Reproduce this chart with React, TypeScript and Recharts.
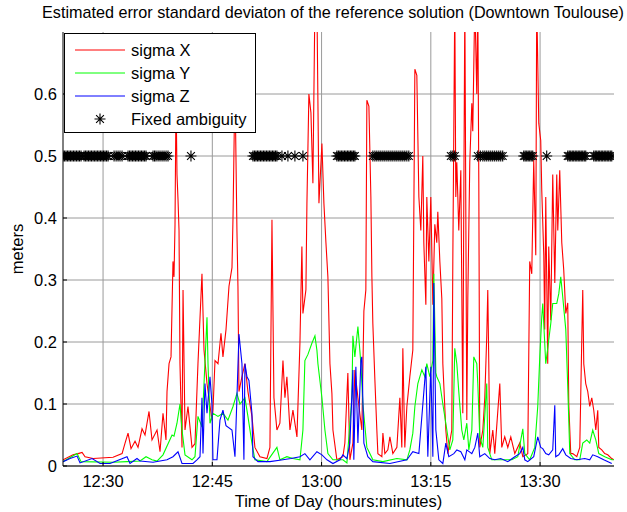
import React from "react";
import {
  CartesianGrid,
  ComposedChart,
  Line,
  Scatter,
  XAxis,
  YAxis,
} from "recharts";

// time is in minutes after 12:00, sigma in meters
const timeTicks = [30, 45, 60, 75, 90];
const meterTicks = [0, 0.1, 0.2, 0.3, 0.4, 0.5, 0.6];

const sigmaX: [number, number][] = [
  [24.51, 0.01], [25.88, 0.018], [26.57, 0.02], [27.12, 0.022], [27.53, 0.015], [28.63, 0.012],
  [31.37, 0.014], [32.61, 0.02], [33.02, 0.037], [33.43, 0.053], [33.84, 0.028], [34.39, 0.04],
  [34.8, 0.03], [35.35, 0.06], [35.76, 0.05], [36.31, 0.088], [36.72, 0.042], [37.41, 0.058],
  [37.82, 0.023], [38.23, 0.085], [38.64, 0.042], [38.78, 0.12], [39.06, 0.165], [39.33, 0.176],
  [39.6, 0.33], [39.74, 0.305], [39.88, 0.39], [40.02, 0.6], [40.15, 0.47], [40.29, 0.43],
  [40.43, 0.38], [40.56, 0.165], [40.84, 0.03], [40.98, 0.284], [41.25, 0.058], [41.66, 0.096],
  [42.21, 0.03], [42.62, 0.036], [43.03, 0.165], [43.58, 0.31], [43.86, 0.187], [44.27, 0.133],
  [44.95, 0.074], [45.09, 0.09], [45.37, 0.17], [45.78, 0.165], [46.19, 0.214], [46.46, 0.176],
  [46.88, 0.22], [47.29, 0.29], [47.7, 0.32], [47.84, 0.4], [48.11, 0.62], [48.38, 0.38],
  [48.52, 0.29], [48.66, 0.12], [49.07, 0.144], [49.48, 0.165], [49.89, 0.12], [50.44, 0.08],
  [50.85, 0.03], [51.54, 0.015], [52.5, 0.012], [52.91, 0.03], [53.19, 0.397], [53.46, 0.11],
  [53.87, 0.058], [54.28, 0.069], [54.7, 0.17], [54.97, 0.11], [55.24, 0.144], [55.66, 0.058],
  [56.07, 0.09], [56.62, 0.047], [57.03, 0.198], [57.3, 0.354], [57.44, 0.246], [57.85, 0.284],
  [57.99, 0.424], [58.26, 0.6], [58.54, 0.57], [58.81, 0.456], [59.09, 0.75], [59.36, 0.75],
  [59.64, 0.424], [60.05, 0.52], [60.32, 0.424], [60.6, 0.36], [60.87, 0.305], [61.15, 0.165],
  [61.42, 0.117], [61.56, 0.058], [62.1, 0.01], [62.93, 0.015], [63.2, 0.037], [63.61, 0.15],
  [63.89, 0.01], [64.3, 0.037], [64.57, 0.155], [64.99, 0.11], [65.53, 0.058], [65.81, 0.25],
  [66.08, 0.284], [66.22, 0.59], [66.5, 0.58], [66.77, 0.434], [66.91, 0.305], [67.04, 0.23],
  [67.32, 0.139], [67.59, 0.058], [67.73, 0.02], [68.28, 0.015], [68.42, 0.053], [68.69, 0.02],
  [69.1, 0.026], [69.38, 0.047], [69.79, 0.02], [70.34, 0.03], [70.75, 0.11], [71.02, 0.03],
  [71.16, 0.19], [71.43, 0.03], [71.71, 0.096], [72.12, 0.144], [72.53, 0.187], [72.81, 0.64],
  [73.08, 0.63], [73.36, 0.434], [73.63, 0.38], [73.9, 0.5], [74.04, 0.36], [74.32, 0.26],
  [74.45, 0.434], [74.73, 0.33], [75.0, 0.434], [75.28, 0.26], [75.55, 0.39], [75.82, 0.36],
  [75.96, 0.41], [76.24, 0.33], [76.51, 0.27], [76.65, 0.165], [77.06, 0.058], [77.33, 0.02],
  [77.88, 0.058], [78.02, 0.33], [78.29, 0.75], [78.43, 0.434], [78.57, 0.49], [78.84, 0.38],
  [79.12, 0.477], [79.39, 0.085], [79.53, 0.434], [79.67, 0.75], [79.94, 0.074], [80.08, 0.27],
  [80.35, 0.49], [80.63, 0.585], [80.76, 0.54], [81.04, 0.75], [81.31, 0.6], [81.45, 0.75],
  [81.59, 0.456], [81.72, 0.03], [82.14, 0.058], [82.41, 0.11], [82.68, 0.21], [82.82, 0.284],
  [82.96, 0.165], [83.1, 0.02], [83.51, 0.058], [83.78, 0.02], [84.47, 0.133], [84.74, 0.03],
  [85.15, 0.047], [85.57, 0.03], [85.98, 0.047], [86.53, 0.02], [87.21, 0.037], [87.63, 0.015],
  [88.31, 0.02], [88.58, 0.33], [88.86, 0.31], [89.13, 0.494], [89.41, 0.34], [89.54, 0.75],
  [89.82, 0.553], [90.09, 0.525], [90.23, 0.445], [90.51, 0.34], [90.64, 0.22], [90.78, 0.434],
  [91.05, 0.165], [91.19, 0.354], [91.47, 0.235], [91.74, 0.47], [92.02, 0.295], [92.29, 0.47],
  [92.43, 0.38], [92.7, 0.477], [92.98, 0.36], [93.25, 0.316], [93.53, 0.246], [93.8, 0.263],
  [93.94, 0.1], [94.21, 0.02], [94.49, 0.02], [95.04, 0.015], [95.45, 0.03], [95.72, 0.2],
  [95.86, 0.284], [96.0, 0.165], [96.27, 0.133], [96.55, 0.12], [96.82, 0.096], [97.1, 0.11],
  [97.37, 0.09], [97.65, 0.058], [97.92, 0.09], [98.06, 0.03], [98.47, 0.026], [98.88, 0.02],
  [99.29, 0.018], [99.84, 0.012], [100.12, 0.01],
];

const sigmaY: [number, number][] = [
  [24.51, 0.007], [26.43, 0.02], [26.98, 0.007], [31.37, 0.006], [33.29, 0.007], [35.08, 0.008],
  [35.9, 0.015], [36.72, 0.01], [37.41, 0.008], [38.23, 0.018], [39.47, 0.05], [39.74, 0.048],
  [40.15, 0.069], [40.56, 0.1], [40.84, 0.058], [41.25, 0.018], [42.21, 0.01], [42.62, 0.015],
  [43.03, 0.08], [43.58, 0.063], [43.72, 0.096], [44.27, 0.24], [44.41, 0.165], [44.68, 0.069],
  [45.09, 0.085], [45.78, 0.08], [46.46, 0.085], [47.15, 0.074], [47.84, 0.096], [48.38, 0.117],
  [48.79, 0.1], [49.48, 0.11], [49.89, 0.08], [50.44, 0.037], [50.85, 0.01], [52.5, 0.007],
  [53.87, 0.03], [54.28, 0.01], [55.24, 0.015], [56.07, 0.012], [57.03, 0.01], [57.44, 0.058],
  [57.71, 0.17], [58.13, 0.18], [58.67, 0.198], [59.09, 0.21], [59.36, 0.187], [59.5, 0.165],
  [60.05, 0.11], [60.46, 0.058], [60.87, 0.02], [61.56, 0.01], [62.93, 0.01], [63.48, 0.005],
  [64.16, 0.11], [64.3, 0.21], [64.57, 0.176], [64.99, 0.225], [65.4, 0.165], [65.67, 0.1],
  [66.22, 0.03], [66.63, 0.02], [67.04, 0.01], [68.42, 0.007], [70.34, 0.012], [71.71, 0.01],
  [72.12, 0.026], [72.53, 0.053], [72.81, 0.096], [73.22, 0.133], [73.77, 0.155], [74.18, 0.144],
  [74.45, 0.165], [74.86, 0.144], [75.28, 0.17], [75.41, 0.31], [75.69, 0.15], [75.82, 0.144],
  [76.24, 0.133], [76.65, 0.1], [77.2, 0.058], [77.61, 0.026], [78.02, 0.042], [78.29, 0.19],
  [78.57, 0.165], [78.84, 0.12], [79.25, 0.058], [79.53, 0.042], [79.94, 0.069], [80.22, 0.026],
  [80.63, 0.058], [80.9, 0.176], [81.31, 0.165], [81.45, 0.133], [81.72, 0.047], [82.14, 0.03],
  [82.68, 0.133], [82.82, 0.03], [83.37, 0.01], [84.74, 0.01], [86.12, 0.01], [86.94, 0.015],
  [87.63, 0.06], [87.9, 0.02], [88.58, 0.01], [89.27, 0.03], [89.68, 0.096], [89.96, 0.176],
  [90.23, 0.24], [90.37, 0.262], [90.78, 0.165], [91.05, 0.19], [91.47, 0.23], [91.74, 0.262],
  [92.29, 0.262], [92.57, 0.278], [92.84, 0.305], [93.11, 0.273], [93.53, 0.22], [93.8, 0.128],
  [94.08, 0.02], [94.76, 0.01], [95.45, 0.01], [95.86, 0.037], [96.41, 0.042], [96.82, 0.037],
  [97.23, 0.058], [97.65, 0.042], [98.06, 0.02], [98.88, 0.015], [99.84, 0.01], [100.12, 0.01],
];

const sigmaZ: [number, number][] = [
  [24.51, 0.007], [25.47, 0.012], [26.43, 0.016], [26.84, 0.005], [28.49, 0.012], [29.59, 0.004],
  [30.96, 0.004], [33.29, 0.015], [33.7, 0.004], [34.66, 0.012], [35.08, 0.008], [36.86, 0.006],
  [38.78, 0.01], [39.6, 0.015], [40.29, 0.023], [40.84, 0.004], [42.35, 0.004], [42.89, 0.01],
  [43.31, 0.015], [43.58, 0.11], [43.72, 0.02], [43.99, 0.133], [44.27, 0.085], [44.68, 0.144],
  [44.95, 0.1], [45.09, 0.01], [45.64, 0.01], [46.05, 0.074], [46.46, 0.09], [46.88, 0.065],
  [47.7, 0.058], [48.11, 0.015], [48.38, 0.11], [48.66, 0.213], [49.07, 0.165], [49.34, 0.01],
  [49.48, 0.165], [49.76, 0.144], [50.03, 0.138], [50.44, 0.085], [50.58, 0.015], [51.27, 0.007],
  [52.91, 0.007], [54.7, 0.01], [55.79, 0.012], [57.03, 0.015], [57.71, 0.02], [58.4, 0.01],
  [59.36, 0.023], [60.05, 0.018], [60.74, 0.01], [61.56, 0.004], [62.52, 0.01], [62.93, 0.018],
  [63.48, 0.012], [63.89, 0.037], [64.3, 0.155], [64.43, 0.01], [64.71, 0.16], [64.99, 0.037],
  [65.4, 0.17], [65.53, 0.176], [65.81, 0.037], [66.35, 0.015], [67.04, 0.007], [69.38, 0.004],
  [71.71, 0.01], [72.53, 0.023], [73.36, 0.02], [74.32, 0.16], [74.59, 0.015], [75.0, 0.16],
  [75.28, 0.015], [75.41, 0.295], [75.69, 0.058], [76.1, 0.01], [76.65, 0.004], [77.06, 0.037],
  [77.47, 0.015], [78.16, 0.02], [78.57, 0.026], [79.12, 0.023], [79.67, 0.01], [79.94, 0.026],
  [80.63, 0.02], [81.04, 0.03], [81.45, 0.053], [81.72, 0.015], [82.41, 0.02], [83.1, 0.012],
  [83.78, 0.01], [84.6, 0.012], [85.57, 0.007], [86.53, 0.015], [87.21, 0.02], [87.63, 0.03],
  [87.9, 0.01], [88.31, 0.007], [89.13, 0.015], [89.68, 0.047], [90.09, 0.03], [90.37, 0.028],
  [90.78, 0.02], [91.19, 0.018], [91.74, 0.026], [92.02, 0.098], [92.15, 0.015], [92.57, 0.018],
  [93.11, 0.028], [93.53, 0.018], [94.21, 0.012], [95.04, 0.01], [96.14, 0.012], [96.82, 0.01],
  [97.23, 0.018], [97.92, 0.015], [98.74, 0.01], [99.84, 0.004],
];

// epochs where the ambiguity was fixed (plotted at 0.5 m)
const fixedLevel = 0.5;
const fixedTimes = [
  24.51, 24.72, 24.92, 25.13, 25.33, 25.54, 25.74, 25.95, 26.15, 26.36, 26.57, 26.77, 26.98,
  27.39, 27.6, 27.8, 28.01, 28.22, 28.42, 28.63, 28.84, 29.04, 29.25, 29.45, 29.66, 29.86,
  30.07, 30.27, 30.48, 30.69, 31.51, 31.79, 32.06, 32.33, 32.61, 33.43, 33.64, 33.84, 34.05,
  34.25, 34.46, 34.66, 34.87, 35.08, 35.28, 35.49, 35.7, 35.9, 36.86, 37.07, 37.27, 37.55,
  37.82, 38.1, 38.37, 38.65, 38.92, 42.07, 50.58, 50.79, 50.99, 51.2, 51.4, 51.61, 51.81,
  52.02, 52.22, 52.43, 52.64, 52.84, 53.05, 53.26, 53.46, 53.67, 53.87, 54.56, 55.38, 56.34,
  57.44, 62.1, 62.31, 62.52, 62.72, 62.93, 63.14, 63.34, 63.55, 63.75, 63.96, 64.16, 64.37,
  64.57, 67.04, 67.32, 67.59, 67.87, 68.14, 68.42, 68.69, 68.97, 69.24, 69.52, 69.79, 70.07,
  70.34, 70.62, 70.89, 71.16, 71.43, 71.71, 71.98, 77.75, 78.02, 78.29, 81.45, 81.8, 82.14,
  82.41, 82.68, 82.96, 83.23, 83.5, 83.77, 84.05, 84.33, 84.6, 84.87, 87.76, 87.96, 88.17,
  88.37, 88.58, 88.78, 88.99, 90.91, 93.8, 94.01, 94.21, 94.42, 94.62, 94.83, 95.04, 95.24,
  95.45, 95.65, 95.86, 96.07, 96.27, 97.37, 97.58, 97.78, 97.99, 98.19, 98.4, 98.6, 98.81,
  99.02, 99.22, 99.43, 99.64, 99.84,
];

const toRows = (pts: [number, number][]) => pts.map(([t, v]) => ({ t, v }));
const fixedRows = fixedTimes.map((t) => ({ t, v: fixedLevel }));

const FONT = "'Liberation Sans', Arial, Helvetica, sans-serif";
const TIME_DOMAIN: [number, number] = [24.5, 100.15];

const fmtTime = (m: number) => {
  const h = 12 + Math.floor(m / 60);
  const mm = Math.round(m % 60);
  return `${h}:${mm < 10 ? "0" + mm : mm}`;
};

const Asterisk = (props: any) => {
  const { cx, cy } = props;
  if (cx == null || cy == null) return null;
  const r = 5.5;
  const d = 3.9;
  return (
    <path
      d={`M${cx - r},${cy}H${cx + r}M${cx},${cy - r}V${cy + r}M${cx - d},${cy - d}L${cx + d},${cy + d}M${cx - d},${cy + d}L${cx + d},${cy - d}`}
      stroke="#000"
      strokeWidth={1.1}
      fill="none"
    />
  );
};

const legendItems = [
  { label: "sigma X", color: "#ff0000" },
  { label: "sigma Y", color: "#00ff00" },
  { label: "sigma Z", color: "#0000ff" },
];

function LegendBox() {
  return (
    <div
      style={{
        position: "absolute",
        left: 64,
        top: 33,
        width: 192,
        height: 100,
        background: "#fff",
        border: "1px solid #000",
        boxSizing: "border-box",
      }}
    >
      <svg width={192} height={100} style={{ position: "absolute", left: -1, top: -1 }}>
        {legendItems.map((it, i) => (
          <line key={it.label} x1={11} x2={61} y1={17 + i * 23} y2={17 + i * 23} stroke={it.color} strokeWidth={1} />
        ))}
        <Asterisk cx={36} cy={86} />
        {[...legendItems.map((it) => it.label), "Fixed ambiguity"].map((label, i) => (
          <text key={label} x={67} y={17 + i * 23} dy="0.35em" fontFamily={FONT} fontSize={16.5} fill="#000">
            {label}
          </text>
        ))}
      </svg>
    </div>
  );
}

export default function App() {
  return (
    <div style={{ position: "absolute", left: 0, top: 0, width: 627, height: 512, background: "#fff", fontFamily: FONT }}>
      <ComposedChart width={627} height={512} margin={{ top: 32, right: 13, bottom: 16, left: 3 }}>
        <CartesianGrid stroke="#9a9a9a" strokeWidth={1} horizontalValues={meterTicks} verticalValues={timeTicks} />
        <XAxis
          type="number"
          dataKey="t"
          domain={TIME_DOMAIN}
          ticks={timeTicks}
          tickFormatter={fmtTime}
          allowDataOverflow
          height={30}
          tickSize={-4}
          tickMargin={13}
          axisLine={{ stroke: "#000" }}
          tickLine={{ stroke: "#000" }}
          tick={{ fill: "#000", fontSize: 16.5, fontFamily: FONT }}
        />
        <XAxis
          xAxisId="top"
          orientation="top"
          type="number"
          dataKey="t"
          domain={TIME_DOMAIN}
          ticks={timeTicks}
          allowDataOverflow
          height={0}
          mirror
          tickSize={4}
          tick={false}
          axisLine={{ stroke: "#000" }}
          tickLine={{ stroke: "#000" }}
        />
        <YAxis
          type="number"
          domain={[0, 0.7]}
          ticks={meterTicks}
          allowDataOverflow
          width={60}
          tickSize={-4}
          tickMargin={10}
          axisLine={{ stroke: "#000" }}
          tickLine={{ stroke: "#000" }}
          tick={{ fill: "#000", fontSize: 16.5, fontFamily: FONT }}
        />
        <YAxis
          yAxisId="right"
          orientation="right"
          type="number"
          domain={[0, 0.7]}
          ticks={meterTicks}
          allowDataOverflow
          width={0}
          mirror
          tickSize={4}
          tick={false}
          axisLine={{ stroke: "#000" }}
          tickLine={{ stroke: "#000" }}
        />
        <Line data={toRows(sigmaX)} dataKey="v" type="linear" stroke="#ff0000" strokeWidth={1.1} dot={false} isAnimationActive={false} />
        <Line data={toRows(sigmaY)} dataKey="v" type="linear" stroke="#00ff00" strokeWidth={1.1} dot={false} isAnimationActive={false} />
        <Line data={toRows(sigmaZ)} dataKey="v" type="linear" stroke="#0000ff" strokeWidth={1.1} dot={false} isAnimationActive={false} />
        <Scatter data={fixedRows} dataKey="v" shape={Asterisk} isAnimationActive={false} />
      </ComposedChart>
      <div style={{ position: "absolute", left: 42, top: 2, fontSize: 16.2, lineHeight: "20px", color: "#000", whiteSpace: "nowrap" }}>
        Estimated error standard deviaton of the reference solution (Downtown Toulouse)
      </div>
      <div style={{ position: "absolute", left: 63, width: 551, top: 491, textAlign: "center", fontSize: 16.5, lineHeight: "20px", color: "#000" }}>
        Time of Day (hours:minutes)
      </div>
      <div
        style={{
          position: "absolute",
          left: 17,
          top: 249,
          fontSize: 16.5,
          lineHeight: "20px",
          color: "#000",
          transform: "translate(-50%, -50%) rotate(-90deg)",
          whiteSpace: "nowrap",
        }}
      >
        meters
      </div>
      <LegendBox />
    </div>
  );
}
